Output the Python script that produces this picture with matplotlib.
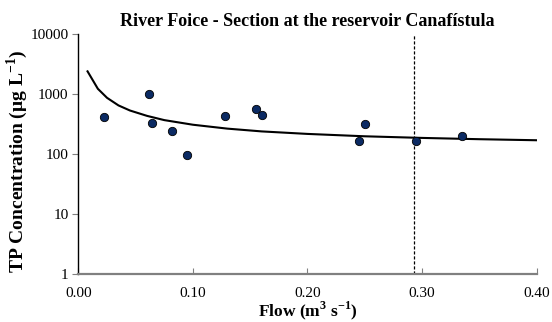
import matplotlib.pyplot as plt
from matplotlib.ticker import FixedLocator, FuncFormatter

plt.rcParams["font.family"] = ["Liberation Serif", "DejaVu Serif"]
plt.rcParams["mathtext.fontset"] = "custom"
plt.rcParams["mathtext.rm"] = "Liberation Serif:bold"
plt.rcParams["mathtext.bf"] = "Liberation Serif:bold"

# Observed samples: flow (m3/s) and total phosphorus (ug/L)
flow_obs = [0.022, 0.062, 0.064, 0.082, 0.095, 0.128, 0.155, 0.160, 0.245, 0.250, 0.295, 0.335]
tp_obs = [417, 1000, 331, 247, 98, 437, 556, 455, 163, 319, 169, 200]

# Fitted concentration curve
flow_fit = [0.008, 0.017, 0.025, 0.035, 0.045, 0.060, 0.075, 0.100, 0.130, 0.160,
            0.200, 0.250, 0.300, 0.350, 0.400]
tp_fit = [2400, 1230, 870, 650, 535, 435, 370, 310, 267, 240,
          218, 199, 187, 178, 171]

# Reference flow marked with the dashed line
flow_ref = 0.293

fig = plt.figure(figsize=(5.52, 3.22), dpi=100)
ax = fig.add_axes([0.142, 0.148, 0.830, 0.746])

ax.plot(flow_fit, tp_fit, color="black", lw=1.5, zorder=2)
ax.scatter(flow_obs, tp_obs, s=36, color="#0b2a63", edgecolor="black", linewidth=0.6, zorder=3)
ax.axvline(flow_ref, color="black", lw=0.9, ls=(0, (2.5, 1.5)), zorder=1)

ax.set_yscale("log")
ax.set_xlim(0, 0.40)
ax.set_ylim(1, 10000)
ax.yaxis.set_major_locator(FixedLocator([1, 10, 100, 1000, 10000]))
ax.yaxis.set_minor_locator(FixedLocator([]))
ax.yaxis.set_major_formatter(FuncFormatter(lambda v, p: f"{v:.0f}"))
ax.set_xticks([0.0, 0.1, 0.2, 0.3, 0.4])
ax.xaxis.set_major_formatter(FuncFormatter(lambda v, p: f"{v:.2f}"))

for side in ("top", "right"):
    ax.spines[side].set_visible(False)
ax.spines["left"].set_color("black")
ax.spines["left"].set_linewidth(1.0)
ax.spines["bottom"].set_color("#808080")
ax.spines["bottom"].set_linewidth(1.6)

ax.tick_params(axis="y", direction="out", length=4, width=0.8, color="#808080", labelsize=11, pad=3)
ax.tick_params(axis="x", direction="in", length=4, width=0.8, color="#808080", labelsize=11, pad=9)

ax.set_xlabel(r"Flow (m$^{3}$ s$^{-1}$)", fontsize=12.5, fontweight="bold", labelpad=0)
ax.set_ylabel(r"TP Concentration (μg L$^{-1}$)", fontsize=14, fontweight="bold")
ax.yaxis.set_label_coords(-0.106, 0.47)
ax.set_title("River Foice - Section at the reservoir Canafístula", fontsize=13,
             fontweight="bold", pad=6)

fig.savefig("out.png", dpi=100)
